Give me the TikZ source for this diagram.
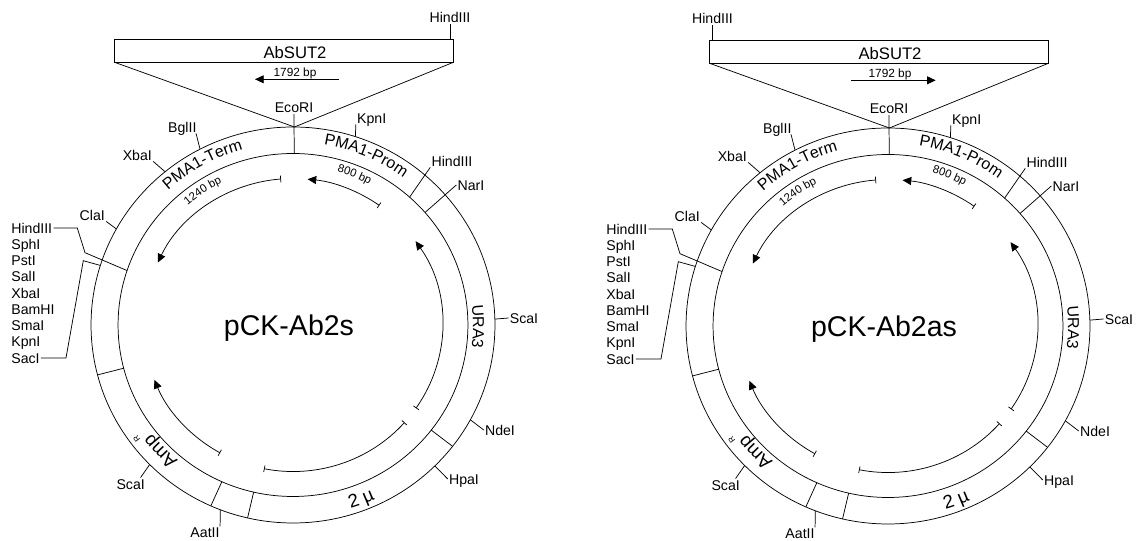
\documentclass[tikz,border=0pt]{standalone}
\usepackage{fontspec}
\setmainfont{Liberation Sans}
\usetikzlibrary{arrows.meta,positioning,decorations.text}
\newcommand\bandfont{\fontsize{12}{14}\selectfont}
\newcommand\ampfont{\fontsize{14}{16}\selectfont}
\newcommand\bpfont{\fontsize{8.5}{10}\selectfont}

\begin{document}
\begin{tikzpicture}[
  x=.75pt,y=.75pt,line width=.55pt,
  ring/.style={x=.765pt},
  site/.style={inner sep=0pt,outer sep=1pt,text height=7.6pt,text depth=0pt,font=\fontsize{10.6}{12}\selectfont},
  insert/.style={draw,inner sep=0pt,outer sep=0pt,minimum width=254pt,minimum height=17.3pt},
  gene/.style={inner sep=0pt,text height=9pt,text depth=0pt,font=\fontsize{12.5}{14}\selectfont},
  small/.style={inner sep=0pt,text height=6.4pt,text depth=0pt,font=\fontsize{8.9}{10}\selectfont},
  title/.style={inner sep=0pt,text height=15.3pt,text depth=0pt,font=\fontsize{21.4}{24}\selectfont},
  cds/.style={ring,{Bar[width=5pt]}-{Triangle[length=6.5pt,width=6pt]}},
  curved/.style 2 args={ring,decorate,decoration={text along path,text={|#1|#2},text align=center}}
]
\useasboundingbox (0,0) rectangle (1136,541);
\foreach \p/\cx/\cy/\nm/\hx/\atail/\atip in {L/293/216/pCK-Ab2s/157/46/-38, R/888/215/pCK-Ab2as/-175.5/-37/47.7} {
\begin{scope}[shift={(\cx,\cy)}]
  % Rings
  \draw[ring] (0,0) circle [radius=198];
  \draw[ring] (0,0) circle [radius=171.5];
  \foreach \a in {-37.8,194.6,246,257} \draw[ring] (\a:171.5) -- (\a:198);
  \node[title] (\p-name) at (-4,0) {\nm};

  % Insert
  \node[insert] (\p-ins) at (-9,274.2) {};
  \node[gene] (\p-abs) at (2,272.7) {AbSUT2};
  \node[small] (\p-len) at (2,253) {1792 bp};
  \coordinate (\p-tail) at (\atail,245.7);
  \coordinate (\p-tip) at (\atip,245.7);
  \draw[-{Triangle[length=6.5pt,width=6pt]}] (\p-tail) -- (\p-tip);
  \path[ring] (89.6:198) coordinate (\p-top);
  \draw (\p-ins.south west) -- (\p-top) -- (\p-ins.south east);
  \node[site] (\p-hi) at (\hx,307.5) {HindIII};
  \coordinate (\p-hb) at (\hx,285.8);
  \draw (\p-hb) -- (\p-hi);

  % Sites
  \foreach \n/\lab/\lx/\ly/\ang/\rad/\anc in {
    eco/EcoRI/1/217.3/89.6/171.5/south,
    kpn/KpnI/78.7/207/72/198/south west,
    bgl/BglII/-110.7/198/117.4/198/335,
    xba/XbaI/-155.7/170/129.3/198/south east,
    cla/ClaI/-200.7/110/151/198/south east,
    hind/HindIII/159/164/48.2/171.5/south west,
    nar/NarI/178/140/41/171.5/west,
    scar/ScaI/231/7/1.7/198/west,
    nde/NdeI/207/-105/-28.6/198/west,
    hpa/HpaI/171/-154/-45.4/198/west,
    aat/AatII/-88/-207.7/248.9/198/23,
    scal/ScaI/-162.3/-159/224.8/198/33} {
    \node[site] (\p-\n) at (\lx,\ly) {\lab};
    \draw[ring] (\ang:\rad) -- (\p-\n.\anc);
  }

  % Polylinker column
  \node[site,anchor=west] (\p-c1) at (-283,97) {HindIII};
  \foreach \lab [count=\i from 2,remember=\i as \j (initially 1)] in {SphI,PstI,SalI,XbaI,BamHI,SmaI,KpnI,SacI}
    \node[site,below=2.59pt of \p-c\j.south west,anchor=north west] (\p-c\i) {\lab};
  \path[ring] (161.5:171.5) coordinate (\p-mcsin) (162.5:198) coordinate (\p-mcsout);
  \draw (\p-c1.east) -- (-215.7,97) -- (-208,72.3) -- (\p-mcsin);
  \draw (\p-c9.east) -- (-227,-33) -- (-209.7,64.3) -- (\p-mcsout);

  % Coding regions
  \draw[cds] (54.7:146.5) arc [start angle=54.7,end angle=84.4,radius=146.5];
  \draw[cds] (94.6:146.5) arc [start angle=94.6,end angle=154.8,radius=146.5];
  \draw[cds] (-34.6:146.5) arc [start angle=-34.6,end angle=34.9,radius=146.5];
  \draw[cds] (240.8:146.5) arc [start angle=240.8,end angle=202,radius=146.5];
  \draw[ring,{Bar[width=5pt]}-{Bar[width=5pt]}] (-41.7:146.5) arc [start angle=-41.7,end angle=-101.2,radius=146.5];

  % Band labels
  \path[curved={\bandfont}{PMA1-Term}] (145:182) arc [start angle=145,end angle=93,radius=182];
  \path[curved={\bandfont}{PMA1-Prom}] (93:183) arc [start angle=93,end angle=41,radius=183];
  \path[curved={\bandfont}{URA3}] (25:176.5) arc [start angle=25,end angle=-26,radius=176.5];
  \path[curved={\ampfont}{Amp}] (250:176) arc [start angle=250,end angle=198,radius=176];
  \path[curved={\ampfont}{2 µ}] (267:192) arc [start angle=267,end angle=315,radius=192];
  \path[curved={\bpfont}{1240 bp}] (145:158) arc [start angle=145,end angle=102,radius=158];
  \path[curved={\bpfont}{800 bp}] (90:159) arc [start angle=90,end angle=46,radius=159];
  \node[rotate=127,inner sep=0pt,font=\fontsize{6}{7}\selectfont] (\p-ampr) at (-156.3,-114.3) {R};
\end{scope}
}
\end{tikzpicture}
\end{document}
